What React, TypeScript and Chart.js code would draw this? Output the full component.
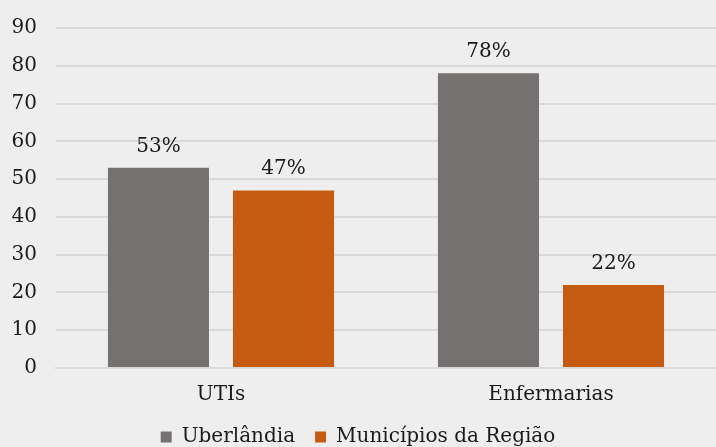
import React, { useEffect, useRef } from "react";
import { Chart, registerables } from "chart.js";

Chart.register(...registerables);

const categories = ["UTIs", "Enfermarias"];
const seriesNames = ["Uberlândia", "Municípios da Região"];
const uberlandia = [53, 78];
const municipios = [47, 22];
const yTicks = [0, 10, 20, 30, 40, 50, 60, 70, 80, 90];

const FONT = "'DejaVu Serif', serif";
const FS = 20;
const BOTTOM_PAD = -10;

const labelPlugin = {
  id: "valueLabels",
  afterDatasetsDraw(chart: any) {
    const ctx = chart.ctx;
    ctx.save();
    ctx.font = `${FS}px ${FONT}`;
    ctx.fillStyle = "#1a1a1a";
    ctx.textAlign = "center";
    ctx.textBaseline = "alphabetic";
    chart.data.datasets.forEach((ds: any, i: number) => {
      const meta = chart.getDatasetMeta(i);
      meta.data.forEach((bar: any, j: number) => {
        ctx.fillText(`${ds.data[j]}%`, bar.x, bar.y - 16);
      });
    });
    ctx.restore();
  },
};

const bgPlugin = {
  id: "bg",
  beforeDraw(chart: any) {
    const ctx = chart.ctx;
    ctx.save();
    ctx.fillStyle = "#eeeeee";
    ctx.fillRect(0, 0, chart.width, chart.height);
    ctx.restore();
  },
};

export default function App() {
  const ref = useRef<HTMLCanvasElement>(null);
  useEffect(() => {
    document.body.style.margin = "0";
    const chart = new Chart(ref.current!, {
      type: "bar",
      data: {
        labels: categories,
        datasets: [
          {
            label: seriesNames[0],
            data: uberlandia,
            backgroundColor: "#767171",
            categoryPercentage: 0.758,
            barPercentage: 0.808,
          },
          {
            label: seriesNames[1],
            data: municipios,
            backgroundColor: "#C55A11",
            categoryPercentage: 0.758,
            barPercentage: 0.808,
          },
        ],
      },
      options: {
        animation: false,
        responsive: false,
        layout: { padding: { top: 28, right: 0, left: 0, bottom: BOTTOM_PAD } },
        plugins: {
          tooltip: { enabled: false },
          legend: {
            position: "bottom",
            labels: {
              font: { family: FONT, size: FS },
              color: "#1a1a1a",
              boxWidth: 11,
              boxHeight: 11,
              padding: 20,
              generateLabels(chart: any) {
                return chart.data.datasets.map((ds: any, i: number) => ({
                  text: ds.label,
                  fillStyle: ds.backgroundColor,
                  strokeStyle: ds.backgroundColor,
                  lineWidth: 0,
                  datasetIndex: i,
                  fontColor: "#1a1a1a",
                }));
              },
            },
          },
        },
        scales: {
          x: {
            grid: { display: false },
            border: { display: true, color: "#d9d9d9", width: 2 },
            ticks: { font: { family: FONT, size: FS }, color: "#1a1a1a", padding: 7 },
            afterFit(scale: any) {
              const lh = scale.chart.legend ? scale.chart.legend.height : 0;
              scale.height = 447 - BOTTOM_PAD - 368 - lh;
              scale.paddingLeft = 0;
              scale.paddingRight = 0;
            },
          },
          y: {
            min: 0,
            max: 90,
            afterBuildTicks(scale: any) {
              scale.ticks = yTicks.map((v) => ({ value: v }));
            },
            grid: { color: "#d9d9d9", lineWidth: 2, drawTicks: false },
            border: { display: false },
            ticks: { font: { family: FONT, size: FS }, color: "#1a1a1a", padding: 19 },
            afterFit(scale: any) {
              scale.width = 56;
              scale.paddingTop = 0;
              scale.paddingBottom = 0;
            },
          },
        },
      },
      plugins: [bgPlugin, labelPlugin],
    });
    return () => chart.destroy();
  }, []);
  return <canvas ref={ref} width={716} height={447} style={{ display: "block" }} />;
}
